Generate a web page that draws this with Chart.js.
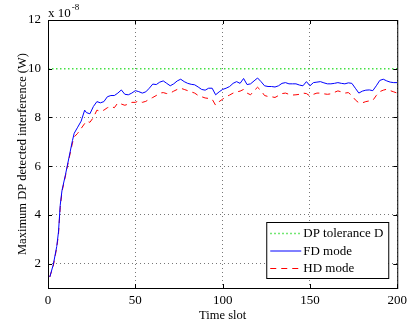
<!DOCTYPE html>
<html>
<head>
<meta charset="utf-8">
<script src="https://cdn.jsdelivr.net/npm/chart.js@4/dist/chart.umd.min.js"></script>
<style>
  html, body { margin: 0; padding: 0; background: #fff; }
  #wrap { width: 412px; height: 330px; }
</style>
</head>
<body>
<div id="wrap"><canvas id="dpChart"></canvas></div>
<script>
// ---- data (values in units of 1e-8 W) ----
const slots = [1, 3, 5, 6, 7, 8, 10, 12, 14, 15, 17, 19, 21, 22, 24, 26, 28, 30, 32, 34, 36, 38, 40,
  42, 44, 46, 48, 50, 52, 54, 56, 58, 60, 62, 64, 66, 68, 70, 72, 74, 76, 78, 80, 82, 84, 86, 88,
  90, 92, 94, 96, 98, 100, 102, 104, 106, 108, 110, 112, 114, 116, 118, 120, 122, 124, 126, 128,
  130, 132, 134, 136, 138, 140, 142, 144, 146, 148, 150, 152, 154, 156, 158, 160, 162, 164, 166,
  168, 170, 172, 174, 176, 178, 180, 182, 184, 186, 188, 190, 192, 194, 196, 198, 200];

const fdMode = [1.45, 1.95, 2.7, 3.3, 4.4, 5.0, 5.65, 6.35, 7.05, 7.35, 7.6, 7.85, 8.3, 8.2, 8.15,
  8.45, 8.65, 8.6, 8.65, 8.85, 8.9, 8.9, 9.0, 9.13, 8.95, 8.93, 9.0, 9.1, 9.06, 9.0, 9.05, 9.2,
  9.37, 9.35, 9.45, 9.5, 9.4, 9.3, 9.38, 9.5, 9.57, 9.47, 9.4, 9.36, 9.34, 9.25, 9.15, 9.12, 9.2,
  9.2, 8.93, 9.05, 9.15, 9.2, 9.27, 9.4, 9.47, 9.4, 9.6, 9.35, 9.38, 9.5, 9.62, 9.47, 9.3, 9.27,
  9.27, 9.25, 9.3, 9.4, 9.43, 9.38, 9.38, 9.38, 9.33, 9.3, 9.47, 9.3, 9.43, 9.45, 9.47, 9.42,
  9.38, 9.38, 9.4, 9.43, 9.4, 9.38, 9.42, 9.4, 9.2, 9.0, 9.08, 9.12, 9.13, 9.1, 9.3, 9.52, 9.57,
  9.5, 9.45, 9.43, 9.43];

const hdMode = [1.45, 1.9, 2.65, 3.2, 4.3, 4.95, 5.6, 6.3, 6.95, 7.2, 7.35, 7.55, 7.75, 7.85, 7.8,
  8.0, 8.3, 8.25, 8.3, 8.4, 8.45, 8.4, 8.6, 8.55, 8.5, 8.55, 8.62, 8.62, 8.68, 8.62, 8.66, 8.75,
  8.82, 8.9, 9.0, 9.02, 8.98, 9.0, 9.08, 9.15, 9.2, 9.15, 9.1, 9.05, 9.0, 8.9, 8.85, 8.8, 8.78,
  8.75, 8.5, 8.65, 8.75, 8.85, 8.92, 9.0, 9.05, 9.08, 9.15, 9.0, 8.93, 9.1, 9.24, 9.1, 8.9, 8.86,
  8.85, 8.82, 8.9, 8.98, 9.0, 8.95, 8.92, 8.93, 8.95, 9.0, 8.98, 8.88, 8.95, 9.0, 9.0, 8.97,
  8.95, 8.97, 9.03, 9.09, 9.05, 9.0, 9.02, 8.9, 8.72, 8.6, 8.6, 8.65, 8.68, 8.7, 8.9, 9.06, 9.12,
  9.16, 9.1, 9.05, 9.0];

const toleranceSlots = [0, 200];
const toleranceD = [10, 10];

const xTicks = [0, 50, 100, 150, 200];
const yTicks = [2, 4, 6, 8, 10, 12];

const serif = "'Liberation Serif', 'Times New Roman', serif";

// full box around plot + "x 10^-8" + legend inside the axes
const matlabBox = {
  id: "matlabBox",
  afterDraw(chart) {
    const { ctx, chartArea: a } = chart;
    ctx.save();
    ctx.strokeStyle = "#000";
    ctx.lineWidth = 1;
    ctx.setLineDash([]);
    ctx.strokeRect(a.left + 0.5, a.top + 0.5, a.right - a.left, a.bottom - a.top);

    // inner tick marks
    const xs = chart.scales.x, ys = chart.scales.y;
    ctx.beginPath();
    xTicks.forEach(t => {
      const px = Math.round(xs.getPixelForValue(t)) + 0.5;
      ctx.moveTo(px, a.bottom); ctx.lineTo(px, a.bottom - 4);
      ctx.moveTo(px, a.top); ctx.lineTo(px, a.top + 4);
    });
    yTicks.forEach(t => {
      const py = Math.round(ys.getPixelForValue(t)) + 0.5;
      ctx.moveTo(a.left, py); ctx.lineTo(a.left + 4, py);
      ctx.moveTo(a.right, py); ctx.lineTo(a.right - 4, py);
    });
    ctx.stroke();

    // exponent label
    ctx.fillStyle = "#000";
    ctx.textBaseline = "alphabetic";
    ctx.textAlign = "left";
    ctx.font = "13px " + serif;
    ctx.fillText("x 10", a.left, a.top - 3);
    const w = ctx.measureText("x 10").width;
    ctx.font = "9px " + serif;
    ctx.fillText("-8", a.left + w + 1, a.top - 10);

    // legend
    const bw = 122, bh = 56;
    const bx = a.right - 9 - bw, by = a.bottom - 10 - bh;
    ctx.fillStyle = "#fff";
    ctx.fillRect(bx, by, bw, bh);
    ctx.strokeStyle = "#000";
    ctx.strokeRect(bx + 0.5, by + 0.5, bw, bh);
    ctx.font = "13px " + serif;
    ctx.textBaseline = "middle";
    chart.data.datasets.forEach((ds, i) => {
      const cy = by + 11 + i * 17.5;
      ctx.strokeStyle = ds.borderColor;
      ctx.lineWidth = ds.borderWidth;
      ctx.setLineDash(ds.borderDash || []);
      ctx.beginPath();
      ctx.moveTo(bx + 4, cy + 0.5);
      ctx.lineTo(bx + 35, cy + 0.5);
      ctx.stroke();
      ctx.setLineDash([]);
      ctx.fillStyle = "#000";
      ctx.fillText(ds.label, bx + 37, cy + 1);
    });
    ctx.restore();
  }
};

const pts = (xs, ys) => xs.map((x, i) => ({ x: x, y: ys[i] }));

new Chart(document.getElementById("dpChart"), {
  type: "line",
  data: {
    datasets: [
      {
        label: "DP tolerance D",
        data: pts(toleranceSlots, toleranceD),
        borderColor: "#44e044",
        borderWidth: 1.6,
        borderDash: [1.5, 2.5],
        pointRadius: 0,
        fill: false
      },
      {
        label: "FD mode",
        data: pts(slots, fdMode),
        borderColor: "#0000ff",
        borderWidth: 1,
        pointRadius: 0,
        tension: 0,
        fill: false
      },
      {
        label: "HD mode",
        data: pts(slots, hdMode),
        borderColor: "#ff0000",
        borderWidth: 1,
        borderDash: [6, 5],
        pointRadius: 0,
        tension: 0,
        fill: false
      }
    ]
  },
  options: {
    responsive: true,
    maintainAspectRatio: false,
    animation: false,
    layout: { padding: { top: 20, right: 11, left: 0, bottom: 0 } },
    plugins: {
      legend: { display: false },
      tooltip: { enabled: false }
    },
    scales: {
      x: {
        type: "linear",
        min: 0,
        max: 200,
        afterBuildTicks: s => { s.ticks = xTicks.map(v => ({ value: v })); },
        afterFit: s => { s.height = 42; },
        ticks: { color: "#000", font: { family: serif, size: 13 }, padding: 5, maxRotation: 0 },
        grid: { color: "#777", drawTicks: false, lineWidth: 1 },
        border: { display: false, dash: [1, 3] },
        title: {
          display: true,
          text: "Time slot",
          color: "#000",
          font: { family: serif, size: 12.5 },
          padding: { top: 0, bottom: 7 }
        }
      },
      y: {
        min: 1,
        max: 12,
        afterBuildTicks: s => { s.ticks = yTicks.map(v => ({ value: v })); },
        afterFit: s => { s.width = 48; },
        ticks: { color: "#000", font: { family: serif, size: 13 }, padding: 7 },
        grid: { color: "#777", drawTicks: false, lineWidth: 1 },
        border: { display: false, dash: [1, 3] },
        title: {
          display: true,
          text: "Maximum DP detected interference (W)",
          color: "#000",
          font: { family: serif, size: 12.5 },
          padding: { top: 15, bottom: 0 }
        }
      }
    }
  },
  plugins: [matlabBox]
});
</script>
</body>
</html>
